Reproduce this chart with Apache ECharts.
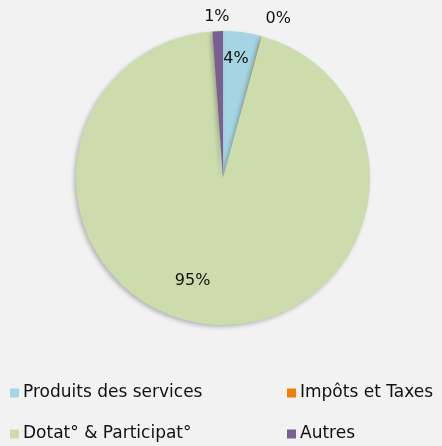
<!DOCTYPE html>
<html>
<head>
<meta charset="utf-8">
<script src="https://cdn.jsdelivr.net/npm/echarts@6/dist/echarts.min.js"></script>
<style>
  html, body { margin: 0; padding: 0; background: #f2f2f2; }
  #chart { width: 442px; height: 446px; }
</style>
</head>
<body>
<div id="chart"></div>
<script>
// categories and values (share of total, %)
const categories = ['Produits des services', 'Impôts et Taxes', 'Dotat° & Participat°', 'Autres'];
const values = [4.2, 0.05, 94.6, 1.15];
const colors = ['#a5d5e2', '#f07f09', '#cddcac', '#7b5f90'];

// label nudges (px) so they sit roughly where the original placed them
const labelShift = [
    { dx: 3, dy: -43 },
    { dx: -2, dy: -13 },
    { dx: -23, dy: 27 },
    { dx: 17, dy: -10 }
];

const chart = echarts.init(document.getElementById('chart'));

const seriesData = categories.map((name, i) => ({
    name: name,
    value: values[i],
    itemStyle: { color: colors[i] },
    label: {
        position: (i === 1 || i === 3) ? 'outside' : 'inside'
    }
}));

const legendBase = {
    orient: 'vertical',
    top: 383,
    padding: 0,
    height: 62,
    itemWidth: 9,
    itemHeight: 9,
    itemGap: 21,
    icon: 'rect',
    selectedMode: false,
    textStyle: {
        fontFamily: 'DejaVu Sans',
        fontSize: 17,
        color: '#111',
        lineHeight: 20,
        padding: [0, 0, 0, -1]
    }
};

const option = {
    backgroundColor: '#f2f2f2',
    animation: false,
    legend: [
        Object.assign({}, legendBase, { left: 10, data: [categories[0], categories[2]] }),
        Object.assign({}, legendBase, { left: 287, data: [categories[1], categories[3]] })
    ],
    series: [
        {
            type: 'pie',
            center: [223, 178],
            radius: 147,
            startAngle: 90,
            clockwise: true,
            data: seriesData,
            itemStyle: {
                shadowColor: 'rgba(0, 0, 0, 0.25)',
                shadowBlur: 4,
                shadowOffsetX: -2,
                shadowOffsetY: 2
            },
            label: {
                formatter: p => Math.round(p.value) + '%',
                fontFamily: 'DejaVu Sans',
                fontSize: 16,
                color: '#111'
            },
            labelLine: { show: false, length: 4, length2: 0 },
            labelLayout: params => labelShift[params.dataIndex],
            emphasis: { disabled: true }
        }
    ]
};

chart.setOption(option);
</script>
</body>
</html>
